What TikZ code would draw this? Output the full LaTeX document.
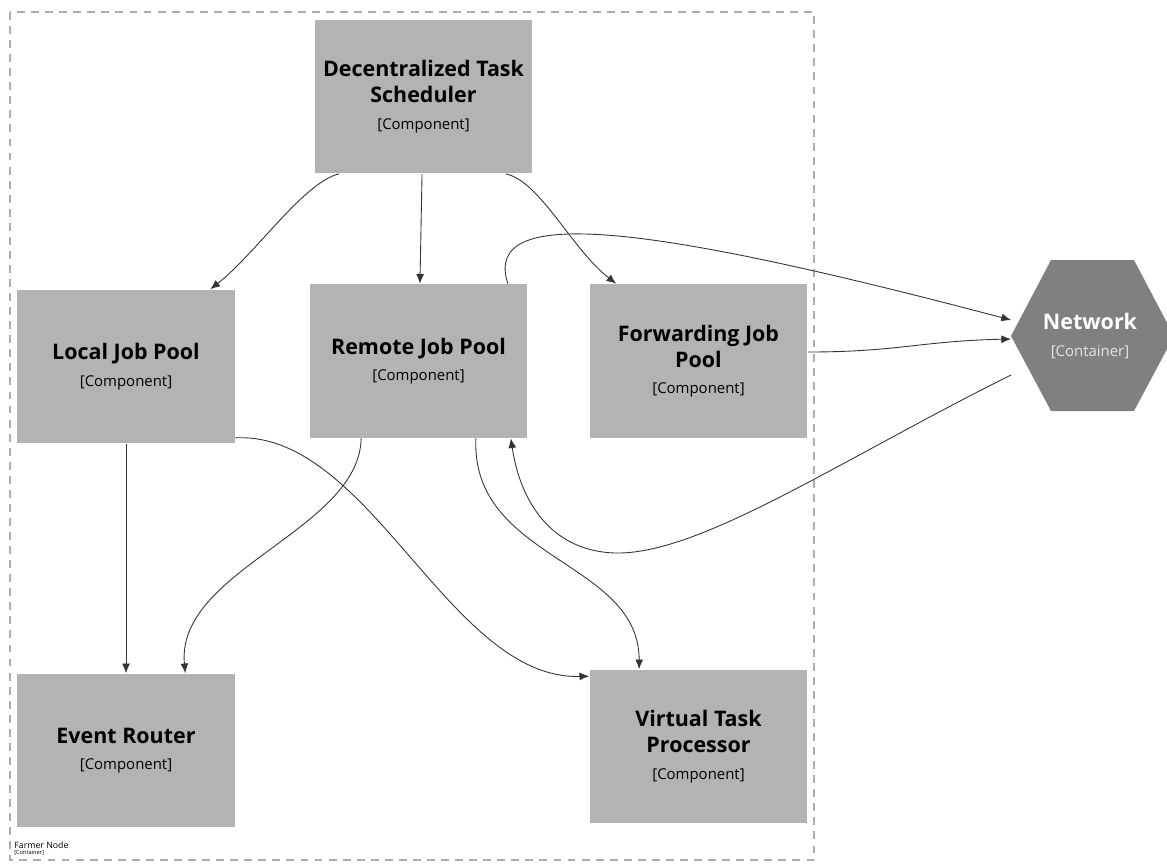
\documentclass[tikz,border=0pt]{standalone}
\usepackage{fontspec}
\setmainfont{Open Sans}
\usetikzlibrary{calc,arrows.meta}
\definecolor{boxgray}{HTML}{B3B3B3}
\definecolor{netgray}{HTML}{808080}
\definecolor{linegray}{HTML}{333333}
\definecolor{framegray}{HTML}{ADADAD}
\newcommand{\kindtag}[1]{{\fontsize{8.5}{10}\mdseries\selectfont[#1]}}
\begin{document}
\begin{tikzpicture}[x=0.02cm,y=-0.02cm,
    comp/.style={fill=boxgray,minimum width=4.36cm,minimum height=3.08cm,align=center,
        font=\fontsize{12.2}{15}\bfseries\selectfont},
    link/.style={linegray,line width=0.5pt,-{Latex[length=5.5pt,width=4.5pt]}}]
    \useasboundingbox (0,0) rectangle (1167,863);
    %% container
    \draw[framegray,line width=0.6pt,dash pattern=on 4.5pt off 3.5pt] (10,12) rectangle (814,860);
    \node[anchor=west,inner sep=0,font=\fontsize{5}{6}\selectfont] (farmer) at (14,845) {Farmer Node};
    \node[anchor=north west,inner sep=0,yshift=-1pt,font=\fontsize{3.2}{4}\selectfont] (farmertag) at (farmer.south west) {[Container]};
    %% components
    \node[comp] (dts) at (423.5,96.5) {Decentralized Task\\Scheduler\\\kindtag{Component}};
    \node[comp] (ljp) at (126,366.5) {Local Job Pool\\\kindtag{Component}};
    \node[comp] (rjp) at (418.5,361) {Remote Job Pool\\\kindtag{Component}};
    \node[comp] (fjp) at (698.5,361) {Forwarding Job\\Pool\\\kindtag{Component}};
    \node[comp] (er) at (126,750.5) {Event Router\\\kindtag{Component}};
    \node[comp] (vtp) at (698.5,746.5) {Virtual Task\\Processor\\\kindtag{Component}};
    %% network
    \fill[netgray] (1011,336) -- (1051,260) -- (1134,260) -- (1174,336) -- (1134,411) -- (1051,411) -- cycle;
    \node[align=center,text=white,font=\fontsize{12.2}{15}\bfseries\selectfont] (net) at (1090,336)
        {Network\\{\fontsize{8.5}{10}\mdseries\selectfont\color{white!90!black}[Container]}};
    \coordinate (netin1) at (1011,320);
    \coordinate (netin2) at (1011,339);
    \coordinate (netout) at (1011,375);
    %% links
    \draw[link] ($(dts.south west)+(25,0)$) .. controls +(-35,8) and +(45,-35) .. ($(ljp.north east)+(-25,0)$);
    \draw[link] (dts) -- (rjp);
    \draw[link] ($(dts.south east)+(-27,0)$) .. controls +(35,8) and +(-45,-35) .. ($(fjp.north west)+(27,0)$);
    \draw[link] ($(rjp.north east)+(-20,0)$) .. controls (482,205) and (640,222) .. (netin1);
    \draw[link] ($(fjp.east)+(0,-9)$) .. controls +(90,0) and +(-90,2) .. (netin2);
    \draw[link] (netout) .. controls (840,460) and (700,555) .. (615,553)
        .. controls (550,551) and (520,500) .. ($(rjp.south east)+(-17,0)$);
    \draw[link] ($(ljp.south east)+(0,-6)$) .. controls +(135,-7) and +(-140,4) .. ($(vtp.north west)+(0,7)$);
    \draw[link] ($(rjp.south west)+(52,0)$) .. controls +(-2,92) and +(-10,-103) .. ($(er.north east)+(-50,0)$);
    \draw[link] ($(rjp.south east)+(-52,0)$) .. controls +(-5,122) and +(0,-109) .. ($(vtp.north west)+(50,0)$);
    \draw[link] (ljp) -- (er);
\end{tikzpicture}
\end{document}
